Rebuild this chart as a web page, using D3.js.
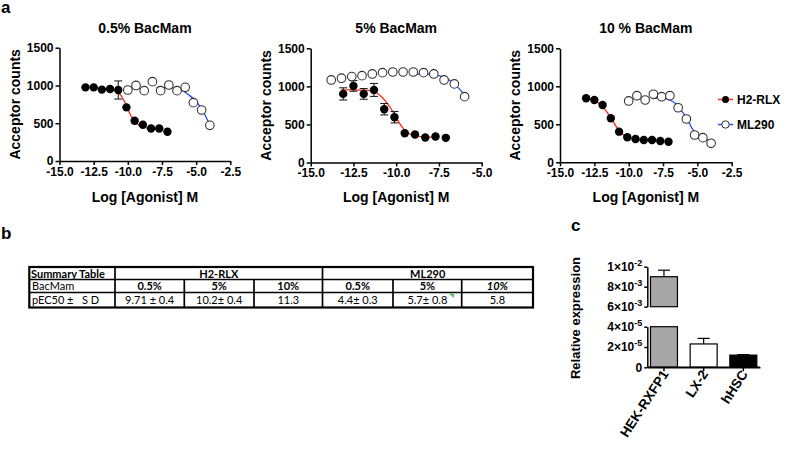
<!DOCTYPE html>
<html>
<head>
<meta charset="utf-8">
<script src="https://cdn.jsdelivr.net/npm/d3@7"></script>
<style>
  body { margin: 0; background: #fff; }
  svg { display: block; font-family: "Liberation Sans", Arial, sans-serif; }
  .axis path, .axis line { stroke: #000; stroke-width: 1.5px; }
  .axis text { font-size: 12px; font-weight: bold; fill: #000; }
  .tbl text { font-family: Lato, "Open Sans", sans-serif; font-size: 11px; fill: #000; white-space: pre; }
</style>
</head>
<body>
<script>
// ---- panel a data (log [agonist] M vs acceptor counts) ----
var h2Dose = [-13.1, -12.5, -11.9, -11.3, -10.7, -10.1, -9.5, -8.9, -8.3, -7.7, -7.1];
var mlDose = [-10.0, -9.4, -8.8, -8.2, -7.6, -7.0, -6.4, -5.8, -5.2, -4.6, -4.0];
var mlDose5 = [-13.8, -13.2, -12.6, -12.0, -11.4, -10.8, -10.2, -9.6, -9.0, -8.4, -7.8, -7.2, -6.6, -6.0];

var h2Counts05 = [975, 975, 945, 953, 940, 710, 532, 480, 430, 430, 388];
var h2Err05 = [0, 0, 0, 0, 120, 0, 0, 0, 0, 0, 0];
var mlCounts05 = [940, 1000, 931, 1050, 931, 1006, 931, 975, 772, 675, 472];
var h2FitX05 = [-12.5, -11.5, -11.0, -10.5, -10.2, -10.0, -9.8, -9.5, -9.2, -8.8, -8.3, -7.7];
var h2FitY05 = [960, 955, 935, 870, 770, 690, 610, 525, 475, 445, 428, 424];
var mlFitX05 = [-7.9, -7.0, -6.5, -6.0, -5.5, -5.0, -4.6, -4.3, -4.0];
var mlFitY05 = [975, 972, 960, 930, 870, 790, 690, 590, 480];

var h2Counts5 = [901, 1006, 901, 953, 700, 595, 385, 367, 328, 341, 324];
var h2Err5 = [80, 70, 70, 85, 75, 75, 0, 0, 0, 0, 0];
var mlCounts5 = [1084, 1107, 1128, 1141, 1163, 1180, 1189, 1189, 1189, 1180, 1163, 1084, 1032, 865];
var h2FitX5 = [-13.2, -12.5, -11.5, -11.1, -10.8, -10.5, -10.2, -10.0, -9.7, -9.5, -9.2, -8.9, -8.5, -8.0, -7.6];
var h2FitY5 = [955, 955, 945, 910, 850, 770, 670, 590, 480, 425, 375, 350, 338, 333, 333];
var mlFitX5 = [-8.9, -8.0, -7.5, -7.0, -6.5, -6.2, -5.95];
var mlFitY5 = [1160, 1158, 1140, 1100, 1010, 940, 865];

var h2Counts10 = [842, 820, 754, 579, 403, 329, 307, 293, 293, 280, 271];
var h2Err10 = [0, 0, 0, 0, 0, 0, 0, 0, 0, 0, 0];
var mlCounts10 = [807, 876, 820, 895, 863, 876, 718, 570, 359, 324, 250];
var h2FitX10 = [-13.0, -12.5, -12.0, -11.5, -11.2, -10.9, -10.5, -10.0, -9.5, -9.0, -8.6];
var h2FitY10 = [840, 815, 750, 640, 560, 470, 380, 320, 295, 287, 285];
var mlFitX10 = [-8.2, -7.5, -7.0, -6.5, -6.0, -5.7, -5.4, -5.1, -4.8, -4.4, -3.95];
var mlFitY10 = [845, 840, 820, 760, 640, 560, 450, 380, 330, 300, 285];

var countTicks = [0, 500, 1000, 1500];

// ---- panel b table ----
var tblHeader = ["Summary Table", "H2-RLX", "ML290"];
var tblBac = ["BacMam", "0.5%", "5%", "10%", "0.5%", "5%", "10%"];
var tblPec = ["pEC50 \u00b1\u00a0\u00a0\u00a0S D", "9.71 \u00b1 0.4", "10.2\u00b1 0.4", "11.3", "4.4\u00b1 0.3", "5.7\u00b1 0.8", "5.8"];

// ---- panel c data ----
var cells = ["HEK-RXFP1", "LX-2", "hHSC"];
var expr = [9.0e-3, 2.3e-5, 1.2e-5];
var exprErr = [0.65e-3, 0.55e-5, 0.05e-5];
var barFill = ["#a6a6a6", "#ffffff", "#000000"];

var svg = d3.select("body").append("svg")
  .attr("width", 787)
  .attr("height", 453);

svg.append("rect").attr("width", 787).attr("height", 453).attr("fill", "#fff");

// panel letters
svg.append("text").attr("x", 1).attr("y", 13).attr("font-size", 17).attr("font-weight", "bold").text("a");
svg.append("text").attr("x", 1).attr("y", 239).attr("font-size", 17).attr("font-weight", "bold").text("b");
svg.append("text").attr("x", 571).attr("y", 231).attr("font-size", 17).attr("font-weight", "bold").text("c");

var panels = [
  { title: "0.5% BacMam", left: 59.5, right: 230.3, top: 47.7, bottom: 161, xMax: -2.5,
    h2: h2Counts05, h2e: h2Err05, mlx: mlDose, ml: mlCounts05,
    rfx: h2FitX05, rfy: h2FitY05, bfx: mlFitX05, bfy: mlFitY05 },
  { title: "5% BacMam", left: 310.7, right: 481.7, top: 48.3, bottom: 162.5, xMax: -5,
    h2: h2Counts5, h2e: h2Err5, mlx: mlDose5, ml: mlCounts5,
    rfx: h2FitX5, rfy: h2FitY5, bfx: mlFitX5, bfy: mlFitY5 },
  { title: "10 % BacMam", left: 560, right: 731.7, top: 48.3, bottom: 162.3, xMax: -2.5,
    h2: h2Counts10, h2e: h2Err10, mlx: mlDose, ml: mlCounts10,
    rfx: h2FitX10, rfy: h2FitY10, bfx: mlFitX10, bfy: mlFitY10 }
];

panels.forEach(function(p) {
  var x = d3.scaleLinear().domain([-15, p.xMax]).range([p.left, p.right]);
  var y = d3.scaleLinear().domain([0, 1500]).range([p.bottom, p.top]);
  var g = svg.append("g");
  var mid = (p.left + p.right) / 2;

  g.append("text").attr("x", mid).attr("y", 33).attr("text-anchor", "middle")
    .attr("font-size", 14).attr("font-weight", "bold").text(p.title);

  g.append("g").attr("class", "axis")
    .attr("transform", "translate(0," + p.bottom + ")")
    .call(d3.axisBottom(x).tickValues(d3.range(-15, p.xMax + 0.01, 2.5))
      .tickFormat(function(d) { return d.toFixed(1); }).tickSize(4).tickSizeOuter(0).tickPadding(2));

  g.append("g").attr("class", "axis")
    .attr("transform", "translate(" + p.left + ",0)")
    .call(d3.axisLeft(y).tickValues(countTicks).tickFormat(function(d) { return String(d); })
      .tickSize(4).tickSizeOuter(0).tickPadding(2));

  g.append("text").attr("x", mid).attr("y", 202).attr("text-anchor", "middle")
    .attr("font-size", 14).attr("font-weight", "bold").text("Log [Agonist] M");

  g.append("text")
    .attr("transform", "translate(" + (p.left - 40) + "," + ((p.top + p.bottom) / 2) + ") rotate(-90)")
    .attr("text-anchor", "middle").attr("font-size", 14).attr("font-weight", "bold")
    .text("Acceptor counts");

  var line = d3.line().x(function(d) { return x(d[0]); }).y(function(d) { return y(d[1]); })
    .curve(d3.curveMonotoneX);

  g.append("path").datum(d3.zip(p.rfx, p.rfy)).attr("d", line)
    .attr("fill", "none").attr("stroke", "#ff2a14").attr("stroke-width", 1.3);
  g.append("path").datum(d3.zip(p.bfx, p.bfy)).attr("d", line)
    .attr("fill", "none").attr("stroke", "#1f4dff").attr("stroke-width", 1.3);

  // error bars
  var eb = g.append("g").attr("stroke", "#222").attr("stroke-width", 1.1);
  h2Dose.forEach(function(d, i) {
    var e = p.h2e[i];
    if (!e) return;
    var cx = x(d), y1 = y(p.h2[i] - e), y2 = y(p.h2[i] + e);
    eb.append("line").attr("x1", cx).attr("x2", cx).attr("y1", y1).attr("y2", y2);
    eb.append("line").attr("x1", cx - 4).attr("x2", cx + 4).attr("y1", y1).attr("y2", y1);
    eb.append("line").attr("x1", cx - 4).attr("x2", cx + 4).attr("y1", y2).attr("y2", y2);
  });

  g.selectAll(".ml").data(d3.zip(p.mlx, p.ml)).enter().append("circle")
    .attr("cx", function(d) { return x(d[0]); })
    .attr("cy", function(d) { return y(d[1]); })
    .attr("r", 4.3).attr("fill", "#fff").attr("stroke", "#333").attr("stroke-width", 1.1);

  g.selectAll(".h2").data(d3.zip(h2Dose, p.h2)).enter().append("circle")
    .attr("cx", function(d) { return x(d[0]); })
    .attr("cy", function(d) { return y(d[1]); })
    .attr("r", 4.2).attr("fill", "#000");
});

// legend (panel a, right)
var leg = svg.append("g").attr("font-size", 12).attr("font-weight", "bold");
leg.append("line").attr("x1", 718).attr("x2", 733).attr("y1", 99.5).attr("y2", 99.5)
  .attr("stroke", "#ff2a14").attr("stroke-width", 1.5);
leg.append("circle").attr("cx", 725.5).attr("cy", 99.5).attr("r", 3.5).attr("fill", "#000");
leg.append("text").attr("x", 737).attr("y", 104).text("H2-RLX");
leg.append("line").attr("x1", 718).attr("x2", 733).attr("y1", 124.5).attr("y2", 124.5)
  .attr("stroke", "#1f4dff").attr("stroke-width", 1.5);
leg.append("circle").attr("cx", 725.5).attr("cy", 124.5).attr("r", 3.7)
  .attr("fill", "#fff").attr("stroke", "#333");
leg.append("text").attr("x", 737).attr("y", 129).text("ML290");

// ---- table (panel b) ----
var colX = [29.3, 115, 184.3, 254, 322.5, 393, 461.7, 533];
var rowY = [267, 279.5, 292.5, 307.5];
var tbl = svg.append("g").attr("class", "tbl");

tbl.append("rect").attr("x", colX[0]).attr("y", rowY[0])
  .attr("width", colX[7] - colX[0]).attr("height", rowY[3] - rowY[0])
  .attr("fill", "none").attr("stroke", "#000").attr("stroke-width", 2.2);
[rowY[1], rowY[2]].forEach(function(yy) {
  tbl.append("line").attr("x1", colX[0]).attr("x2", colX[7]).attr("y1", yy).attr("y2", yy)
    .attr("stroke", "#000").attr("stroke-width", 1.5);
});
colX.slice(1, 7).forEach(function(xx, i) {
  var full = (i === 0 || i === 3);
  tbl.append("line").attr("x1", xx).attr("x2", xx)
    .attr("y1", full ? rowY[0] : rowY[1]).attr("y2", rowY[3])
    .attr("stroke", "#000").attr("stroke-width", 1.7);
});

tbl.append("text").attr("x", 31).attr("y", 277.5).attr("font-weight", "bold").text(tblHeader[0]);
tbl.append("text").attr("x", (colX[1] + colX[4]) / 2).attr("y", 277.5).attr("text-anchor", "middle")
  .attr("font-weight", "bold").text(tblHeader[1]);
tbl.append("text").attr("x", (colX[4] + colX[7]) / 2).attr("y", 277.5).attr("text-anchor", "middle")
  .attr("font-weight", "bold").text(tblHeader[2]);

tblBac.forEach(function(t, i) {
  var el = tbl.append("text").attr("y", 290).text(t);
  if (i === 0) { el.attr("x", 32); return; }
  el.attr("x", (colX[i] + colX[i + 1]) / 2).attr("text-anchor", "middle").attr("font-weight", "bold");
  if (i === 6) el.attr("font-style", "italic");
});
tblPec.forEach(function(t, i) {
  var el = tbl.append("text").attr("y", 304).text(t);
  if (i === 0) { el.attr("x", 32); return; }
  el.attr("x", (colX[i] + colX[i + 1]) / 2).attr("text-anchor", "middle");
});
// little green comment marker
tbl.append("path").attr("d", "M448.5,293.5 L454,293.5 L454,298 Z").attr("fill", "#5ec65e");

// ---- bar chart (panel c) ----
var cxs = d3.scaleBand().domain(cells).range([647.3, 760]).paddingInner(0.32).paddingOuter(0.08);
var yLow = d3.scaleLinear().domain([0, 4e-5]).range([367.3, 326.7]);
var yHigh = d3.scaleLinear().domain([6e-3, 1e-2]).range([306.7, 266.7]);

function sciLabels(sel) {
  sel.selectAll(".tick text").each(function(d) {
    var t = d3.select(this).text(null);
    if (d === 0) { t.text("0"); return; }
    var ex = Math.floor(Math.log10(d) + 1e-9);
    var m = Math.round(d / Math.pow(10, ex));
    t.append("tspan").text(m + "\u00d710");
    t.append("tspan").attr("dy", -5).attr("font-size", 9).text(ex);
  });
}

var gc = svg.append("g");
gc.append("g").attr("class", "axis").attr("transform", "translate(647.3,0)")
  .call(d3.axisLeft(yHigh).tickValues([6e-3, 8e-3, 1e-2]).tickSize(3).tickSizeOuter(0).tickPadding(2))
  .call(sciLabels);
gc.append("g").attr("class", "axis").attr("transform", "translate(647.3,0)")
  .call(d3.axisLeft(yLow).tickValues([0, 2e-5, 4e-5]).tickSize(3).tickSizeOuter(0).tickPadding(2))
  .call(sciLabels);
gc.selectAll(".tick text").attr("font-size", 12.5);

cells.forEach(function(c, i) {
  var v = expr[i], bx = cxs(c), bw = cxs.bandwidth();
  gc.append("rect").attr("x", bx).attr("width", bw)
    .attr("y", yLow(Math.min(v, 4e-5))).attr("height", yLow(0) - yLow(Math.min(v, 4e-5)))
    .attr("fill", barFill[i]).attr("stroke", "#000").attr("stroke-width", 1.2);
  var top, errTop;
  if (v > 6e-3) {
    gc.append("rect").attr("x", bx).attr("width", bw)
      .attr("y", yHigh(v)).attr("height", yHigh(6e-3) - yHigh(v))
      .attr("fill", barFill[i]).attr("stroke", "#000").attr("stroke-width", 1.2);
    top = yHigh(v); errTop = yHigh(v + exprErr[i]);
  } else {
    top = yLow(v); errTop = yLow(v + exprErr[i]);
  }
  var mx = bx + bw / 2;
  gc.append("line").attr("x1", mx).attr("x2", mx).attr("y1", top).attr("y2", errTop)
    .attr("stroke", "#000").attr("stroke-width", 1.2);
  gc.append("line").attr("x1", mx - 6).attr("x2", mx + 6).attr("y1", errTop).attr("y2", errTop)
    .attr("stroke", "#000").attr("stroke-width", 1.2);
});

gc.append("g").attr("class", "axis").attr("transform", "translate(0,367.3)")
  .call(d3.axisBottom(cxs).tickSize(4).tickSizeOuter(0).tickFormat(""));
gc.append("line").attr("x1", 647.3).attr("x2", 760).attr("y1", 367.3).attr("y2", 367.3)
  .attr("stroke", "#000").attr("stroke-width", 1.5);

cells.forEach(function(c) {
  gc.append("text")
    .attr("transform", "translate(" + (cxs(c) + cxs.bandwidth() / 2 + 5) + ",374) rotate(-57)")
    .attr("text-anchor", "end").attr("font-size", 13.5).attr("font-weight", "bold").text(c);
});

gc.append("text").attr("transform", "translate(580,318) rotate(-90)")
  .attr("text-anchor", "middle").attr("font-size", 13).attr("font-weight", "bold")
  .text("Relative expression");
</script>
</body>
</html>
